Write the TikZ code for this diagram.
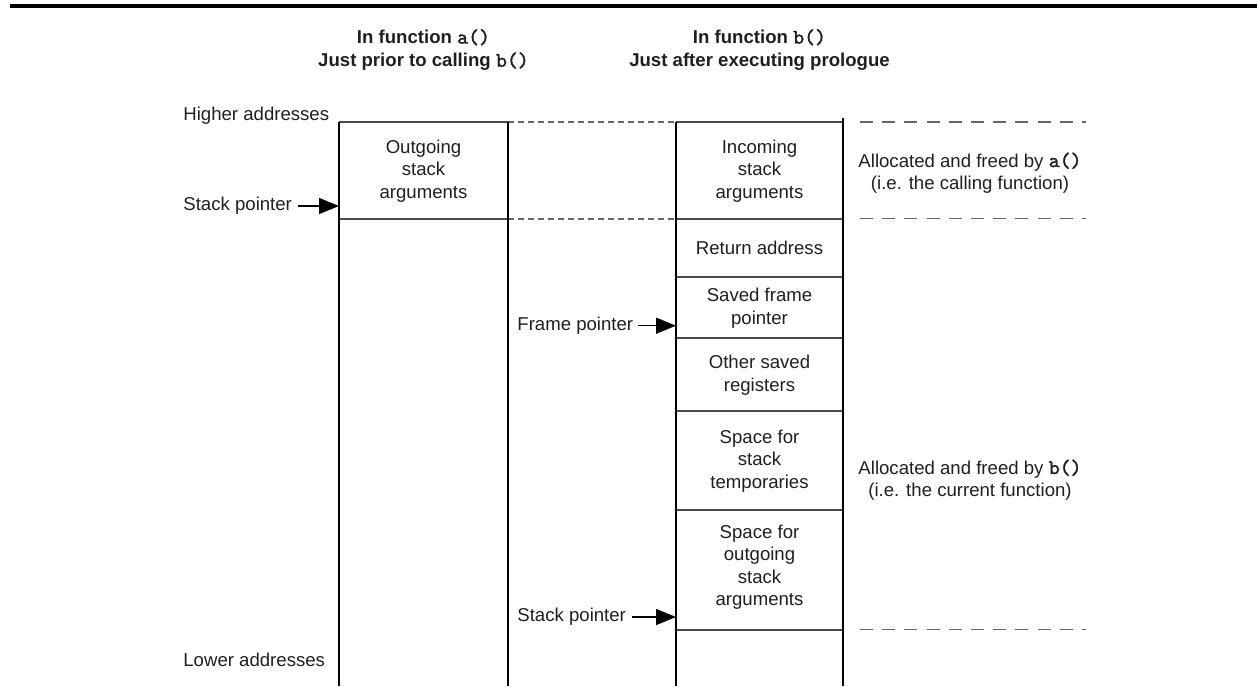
\documentclass[tikz,border=0pt]{standalone}
\usepackage{fontspec}
\setmainfont{Liberation Sans}
\newfontfamily\codefont{lmmono10-regular.otf}[FakeBold=1.6,Scale=1.12]
\newcommand{\code}[1]{{\codefont #1}}
\usetikzlibrary{arrows.meta}
\begin{document}
\begin{tikzpicture}[x=0.5pt,y=-0.5pt,
  every node/.style={font=\fontsize{9.3pt}{11.2pt}\selectfont, inner sep=0pt, align=center, text=black!88},
  title/.style={font=\fontsize{9.3pt}{11.6pt}\selectfont\bfseries},
  colline/.style={line width=0.75pt, draw=black},
  sepline/.style={line width=1pt, draw=black!70},
  linkline/.style={line width=1pt, draw=black!60, dash pattern=on 3pt off 2pt},
  boundline/.style={line width=0.9pt, draw=black!60, dash pattern=on 6.5pt off 4.6pt},
  ptr/.style={line width=0.75pt, draw=black, -{Triangle[length=10pt,width=8pt]}},
  toprule/.style={line width=2pt, draw=black}]
\useasboundingbox (0,0) rectangle (1257,686);

% top rule
\coordinate (trl) at (10,5.5);
\coordinate (trr) at (1257,5.5);
\draw[toprule] (trl) -- (trr);

% column corner coordinates
\coordinate (c1tl) at (339,122); \coordinate (c1tr) at (508,122);
\coordinate (c1ml) at (339,218.5); \coordinate (c1mr) at (508,218.5);
\coordinate (c1bl) at (339,686); \coordinate (c1br) at (508,686);
\coordinate (c2tl) at (676,122); \coordinate (c2tr) at (843,122);
\coordinate (c2top) at (843,118);
\coordinate (c2bl) at (676,686); \coordinate (c2br) at (843,686);
\coordinate (c2l1) at (676,218.5); \coordinate (c2r1) at (843,218.5);
\coordinate (c2l2) at (676,277); \coordinate (c2r2) at (843,277);
\coordinate (c2l3) at (676,337.5); \coordinate (c2r3) at (843,337.5);
\coordinate (c2l4) at (676,410.5); \coordinate (c2r4) at (843,410.5);
\coordinate (c2l5) at (676,509.5); \coordinate (c2r5) at (843,509.5);
\coordinate (c2l6) at (676,629.5); \coordinate (c2r6) at (843,629.5);

% right boundary dashes
\coordinate (bd1a) at (860,122); \coordinate (bd1b) at (1086,122);
\coordinate (bd2a) at (860,218.5); \coordinate (bd2b) at (1086,218.5);
\coordinate (bd3a) at (860,629.5); \coordinate (bd3b) at (1086,629.5);

% horizontal separators
\draw[sepline] (c1tl) -- (c1tr);
\draw[sepline] (c1ml) -- (c1mr);
\draw[linkline] (c1tr) -- (c2tl);
\draw[linkline] (c1mr) -- (c2l1);
\draw[sepline] (c2tl) -- (c2tr);
\draw[sepline] (c2l1) -- (c2r1);
\draw[sepline] (c2l2) -- (c2r2);
\draw[sepline] (c2l3) -- (c2r3);
\draw[sepline] (c2l4) -- (c2r4);
\draw[sepline] (c2l5) -- (c2r5);
\draw[sepline] (c2l6) -- (c2r6);
\draw[boundline] (bd1a) -- (bd1b);
\draw[boundline] (bd2a) -- (bd2b);
\draw[boundline] (bd3a) -- (bd3b);

% vertical column lines
\draw[colline] (c1tl) -- (c1bl);
\draw[colline] (c1tr) -- (c1br);
\draw[colline] (c2tl) -- (c2bl);
\draw[colline] (c2top) -- (c2br);

% titles
\node[title] (ta) at (423.5,50) {In function \code{a()}\\Just prior to calling \code{b()}};
\node[title] (tb) at (759.5,50) {In function \code{b()}\\Just after executing prologue};

% side labels
\node[anchor=base west] (hi) at (183,120) {Higher addresses};
\node[anchor=west] (lo) at (183,660) {Lower addresses};
\node[anchor=west] (sp1) at (183,206) {Stack pointer};
\node[anchor=west] (fp) at (517,325.7) {Frame pointer};
\node[anchor=west] (sp2) at (517,617) {Stack pointer};

\coordinate (sp1t) at (339,206);
\coordinate (fpt) at (676,325.7);
\coordinate (sp2t) at (676,617);
\draw[ptr] ([xshift=3pt]sp1.east) -- (sp1t);
\draw[ptr] ([xshift=2pt]fp.east) -- (fpt);
\draw[ptr] ([xshift=3pt]sp2.east) -- (sp2t);

% cell contents
\node (out) at (423.5,171) {Outgoing\\stack\\arguments};
\node (inc) at (759.5,171) {Incoming\\stack\\arguments};
\node (ret) at (759.5,248) {Return address};
\node (sfp) at (759.5,308) {Saved frame\\pointer};
\node (osr) at (759.5,375) {Other saved\\registers};
\node (sst) at (759.5,461) {Space for\\stack\\temporaries};
\node (sos) at (759.5,567) {Space for\\outgoing\\stack\\arguments};

% ownership notes
\node (na) at (970,173) {Allocated and freed by \code{a()}\\(i.e. the calling function)};
\node (nb) at (970,480) {Allocated and freed by \code{b()}\\(i.e. the current function)};
\end{tikzpicture}
\end{document}
